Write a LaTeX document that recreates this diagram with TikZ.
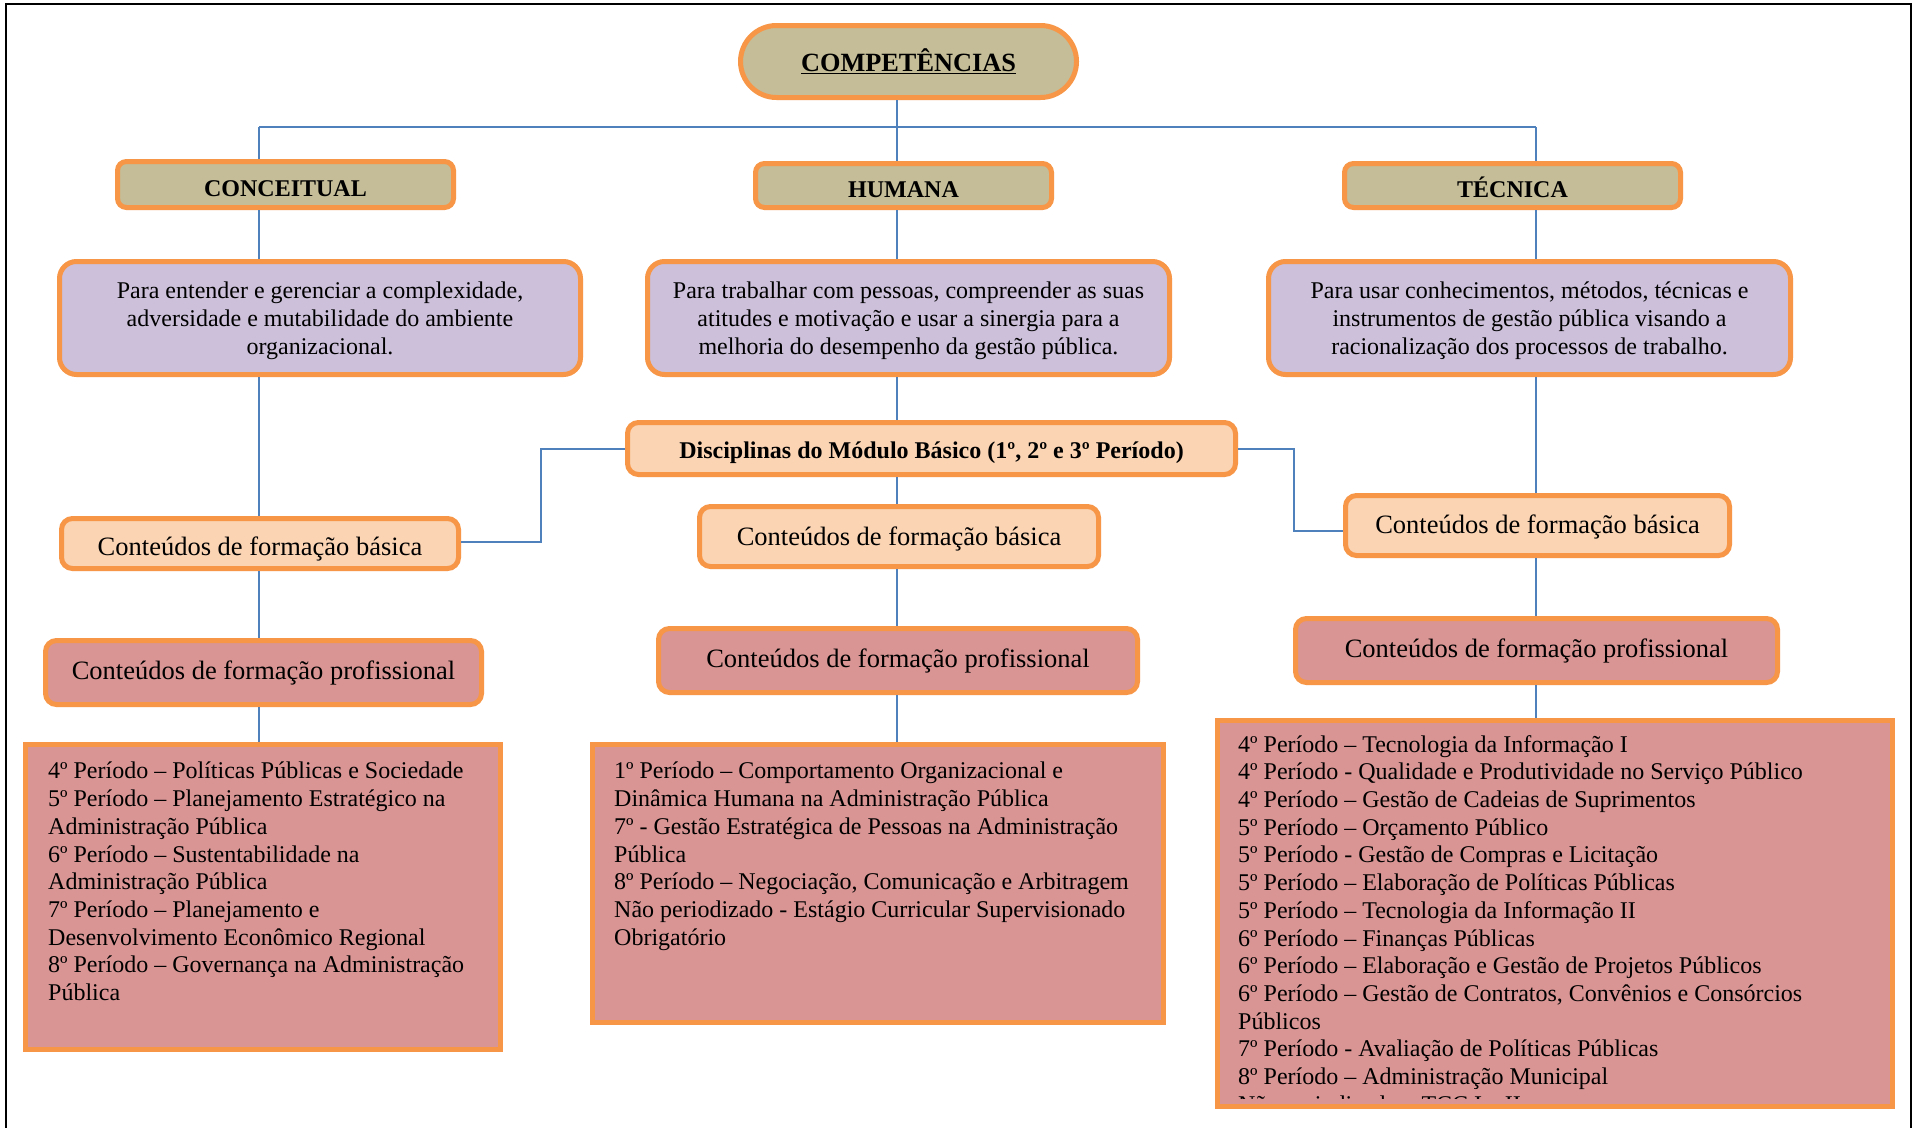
\documentclass[tikz,border=0pt]{standalone}
\usepackage{fontspec}
\setmainfont{Liberation Serif}
\definecolor{orng}{HTML}{F79646}
\definecolor{cTan}{HTML}{C4BD97}
\definecolor{lilac}{HTML}{CCC0DA}
\definecolor{peach}{HTML}{FBD4B4}
\definecolor{rose}{HTML}{D99594}
\definecolor{lineblue}{HTML}{4F81BD}
\begin{document}
\begin{tikzpicture}[x=1pt,y=-1pt,
  conn/.style={draw=lineblue, line width=2pt},
  box/.style={draw=orng, line width=5pt, inner sep=0pt, align=center},
  headbox/.style={box, fill=cTan, rounded corners=9pt, font=\fontsize{24}{28}\selectfont\bfseries,
                  text height=24pt, text depth=0pt},
  descbox/.style={box, fill=lilac, rounded corners=17pt, font=\fontsize{24}{28}\selectfont},
  basicbox/.style={box, fill=peach, rounded corners=11pt, font=\fontsize{26.5}{30}\selectfont},
  profbox/.style={box, fill=rose, rounded corners=11pt, font=\fontsize{26.5}{30}\selectfont},
  listbox/.style={box, fill=rose},
  listtxt/.style={inner sep=0pt, align=left, anchor=north west, font=\fontsize{24}{27.7}\selectfont}
]
\useasboundingbox (0,0) rectangle (1918,1127);
\clip (0,0) rectangle (1918,1127);
\fill[white] (0,0) rectangle (1918,1127);
% outer frame
\draw[black, line width=2.5pt] (6,4) rectangle (1911,1145);

% top
\node[box, fill=cTan, rounded corners=36pt, minimum width=336pt, minimum height=72pt,
      font=\fontsize{26.3}{30}\selectfont\bfseries] (comp) at (908.5,61.5) {\underline{COMPETÊNCIAS}};

% headers
\node[headbox, minimum width=336pt, minimum height=46pt] (conc) at (285.5,184.5) {CONCEITUAL};
\node[headbox, minimum width=296pt, minimum height=44pt] (hum) at (903.5,185.5) {HUMANA};
\node[headbox, minimum width=336pt, minimum height=44pt] (tec) at (1512.5,185.5) {TÉCNICA};

% descriptions
\node[descbox, minimum width=521pt, minimum height=113pt] (p1) at (320,318)
  {\rule{0pt}{21.6pt}Para entender e gerenciar a complexidade,\\ adversidade e mutabilidade do ambiente\\ organizacional.};
\node[descbox, minimum width=522pt, minimum height=113pt] (p2) at (908.5,318)
  {\rule{0pt}{21.6pt}Para trabalhar com pessoas, compreender as suas\\ atitudes e motivação e usar a sinergia para a\\ melhoria do desempenho da gestão pública.};
\node[descbox, minimum width=522pt, minimum height=113pt] (p3) at (1529.5,318)
  {\rule{0pt}{21.6pt}Para usar conhecimentos, métodos, técnicas e\\ instrumentos de gestão pública visando a\\ racionalização dos processos de trabalho.};

% disciplinas
\node[box, fill=peach, rounded corners=11pt, minimum width=608pt, minimum height=52pt,
      font=\fontsize{24}{28}\selectfont\bfseries, text height=22pt, text depth=3pt] (disc) at (931.5,448.5)
  {Disciplinas do Módulo Básico (1º, 2º e 3º Período)};

% basic
\node[basicbox, minimum width=397pt, minimum height=50pt, text height=25pt, text depth=2pt] (b1) at (260,543.5) {Conteúdos de formação básica};
\node[basicbox, minimum width=399pt, minimum height=60pt, text height=22pt, text depth=4pt] (b2) at (899,536.5) {Conteúdos de formação básica};
\node[basicbox, minimum width=384pt, minimum height=60pt, text height=20.6pt, text depth=5pt] (b3) at (1537.5,525.5) {Conteúdos de formação básica};

% professional
\node[profbox, minimum width=436pt, minimum height=64pt] (f1) at (263.5,672.5) {Conteúdos de formação profissional};
\node[profbox, minimum width=479pt, minimum height=64pt] (f2) at (898,660.5) {Conteúdos de formação profissional};
\node[profbox, minimum width=482pt, minimum height=64pt] (f3) at (1536.5,650.5) {Conteúdos de formação profissional};

% list boxes
\node[listbox, minimum width=475pt, minimum height=305pt] (l1) at (263,897) {};
\node[listbox, minimum width=571pt, minimum height=278pt] (l2) at (878,883.5) {};
\node[listbox, minimum width=675pt, minimum height=386pt] (l3) at (1555,913.5) {};

\node[listtxt] (t1) at (48,762)
  {4º Período – Políticas Públicas e Sociedade\\
   5º Período – Planejamento Estratégico na\\
   Administração Pública\\
   6º Período – Sustentabilidade na\\
   Administração Pública\\
   7º Período – Planejamento e\\
   Desenvolvimento Econômico Regional\\
   8º Período – Governança na Administração\\
   Pública};
\node[listtxt] (t2) at (614,762)
  {1º Período – Comportamento Organizacional e\\
   Dinâmica Humana na Administração Pública\\
   7º - Gestão Estratégica de Pessoas na Administração\\
   Pública\\
   8º Período – Negociação, Comunicação e Arbitragem\\
   Não periodizado - Estágio Curricular Supervisionado\\
   Obrigatório};
\begin{scope}
\clip (1215,718) rectangle (1895,1098);
\node[listtxt] (t3) at (1238,735)
  {4º Período – Tecnologia da Informação I\\
   4º Período - Qualidade e Produtividade no Serviço Público\\
   4º Período – Gestão de Cadeias de Suprimentos\\
   5º Período – Orçamento Público\\
   5º Período - Gestão de Compras e Licitação\\
   5º Período – Elaboração de Políticas Públicas\\
   5º Período – Tecnologia da Informação II\\
   6º Período – Finanças Públicas\\
   6º Período – Elaboração e Gestão de Projetos Públicos\\
   6º Período – Gestão de Contratos, Convênios e Consórcios\\
   Públicos\\
   7º Período - Avaliação de Políticas Públicas\\
   8º Período – Administração Municipal\\
   Não periodizado – TCC I e II};
\end{scope}

% connectors
\coordinate (hubL) at (259,127);
\coordinate (hubM) at (897,127);
\coordinate (hubR) at (1536,127);
\draw[conn] (comp.south -| hubM) -- (hubM);
\draw[conn] (hubL) -- (hubR);
\draw[conn] (hubL) -- (conc.north -| hubL);
\draw[conn] (hubM) -- (hum.north -| hubM);
\draw[conn] (hubR) -- (tec.north -| hubR);
\draw[conn] (conc.south -| hubL) -- (p1.north -| hubL);
\draw[conn] (hum.south -| hubM) -- (p2.north -| hubM);
\draw[conn] (tec.south -| hubR) -- (p3.north -| hubR);
\draw[conn] (p1.south -| hubL) -- (b1.north -| hubL);
\draw[conn] (p2.south -| hubM) -- (disc.north -| hubM);
\draw[conn] (p3.south -| hubR) -- (b3.north -| hubR);
\coordinate (kL) at (541,542);
\coordinate (kR) at (1294,531);
\draw[conn] (disc.west) -| (kL) -- (kL -| b1.east);
\draw[conn] (disc.east) -| (kR) -- (kR -| b3.west);
\draw[conn] (disc.south -| hubM) -- (b2.north -| hubM);
\draw[conn] (b1.south -| hubL) -- (f1.north -| hubL);
\draw[conn] (b2.south -| hubM) -- (f2.north -| hubM);
\draw[conn] (b3.south -| hubR) -- (f3.north -| hubR);
\draw[conn] (f1.south -| hubL) -- (l1.north -| hubL);
\draw[conn] (f2.south -| hubM) -- (l2.north -| hubM);
\draw[conn] (f3.south -| hubR) -- (l3.north -| hubR);
\end{tikzpicture}
\end{document}
